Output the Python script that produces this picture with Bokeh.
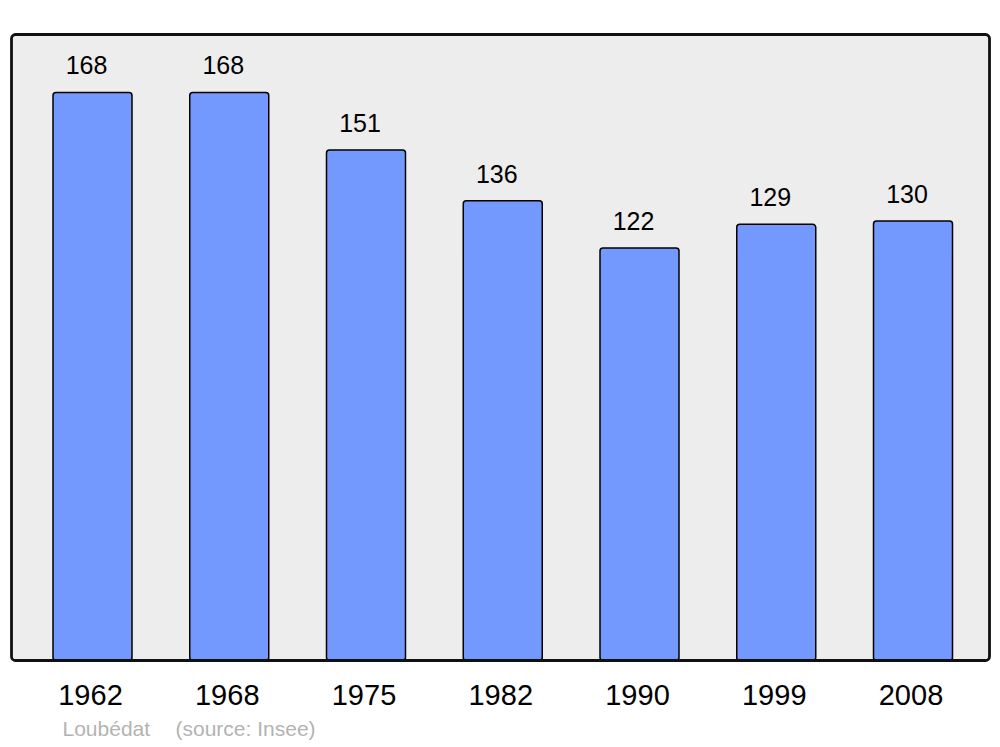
from bokeh.plotting import figure
from bokeh.models import Range1d, ColumnDataSource
from bokeh.core.properties import value
from bokeh.embed import file_html
from bokeh.resources import INLINE

years = ["1962", "1968", "1975", "1982", "1990", "1999", "2008"]
population = [168, 168, 151, 136, 122, 129, 130]
source_name = "Loubédat"
source_note = "(source: Insee)"

FONT = value("Liberation Sans")
W, H = 1000, 747
XPX = 136.75          # pixels per category step
YPX = 3.381           # pixels per inhabitant
X0 = 92.0             # screen x of first category
Y0 = 660.0            # screen y of value 0

def xs(px):  # screen px -> data x
    return (px - X0) / XPX

def ys(py):  # screen px -> data y
    return (Y0 - py) / YPX

p = figure(width=W, height=H, output_backend="svg", toolbar_location=None,
           x_range=Range1d(xs(0), xs(W)), y_range=Range1d(ys(H), ys(0)),
           min_border=0)
p.axis.visible = False
p.grid.visible = False
p.outline_line_color = None
p.background_fill_color = "white"
p.border_fill_color = "white"

# frame box (plot area)
fl, fr, ft = xs(11), xs(989), ys(34)
p.quad(left=[fl], right=[fr], bottom=[0], top=[ft], fill_color="#ededed",
       line_color=None, border_radius=4)

idx = list(range(len(years)))
src = ColumnDataSource(dict(x=idx, top=population, years=years,
                            lab=[str(v) for v in population],
                            lx=[i - 6 / XPX for i in idx],
                            ly=[v + 27 / YPX for v in population],
                            yx=[i - 2 / XPX for i in idx],
                            yy=[-34 / YPX] * len(idx)))

p.vbar(x="x", top="top", bottom=0, width=79 / XPX, source=src,
       fill_color="#7399ff", line_color="black", line_width=1.5,
       border_radius=3)

p.quad(left=[fl], right=[fr], bottom=[0], top=[ft], fill_color=None,
       line_color="#111111", line_width=2.8, border_radius=4)

p.text(x="lx", y="ly", text="lab", source=src, text_font=FONT,
       text_font_size="25px", text_align="center", text_baseline="alphabetic",
       text_color="black")
p.text(x="yx", y="yy", text="years", source=src, text_font=FONT,
       text_font_size="29px", text_align="center", text_baseline="alphabetic",
       text_color="black")

p.text(x=[xs(62)], y=[ys(728)], text=[source_name], text_font=FONT,
       text_font_size="21px", text_align="left", text_baseline="alphabetic",
       text_color="#b3b3b3")
p.text(x=[xs(175)], y=[ys(728)], text=[source_note], text_font=FONT,
       text_font_size="21px", text_align="left", text_baseline="alphabetic",
       text_color="#b3b3b3")

open("out.html", "w").write(file_html(p, INLINE))
